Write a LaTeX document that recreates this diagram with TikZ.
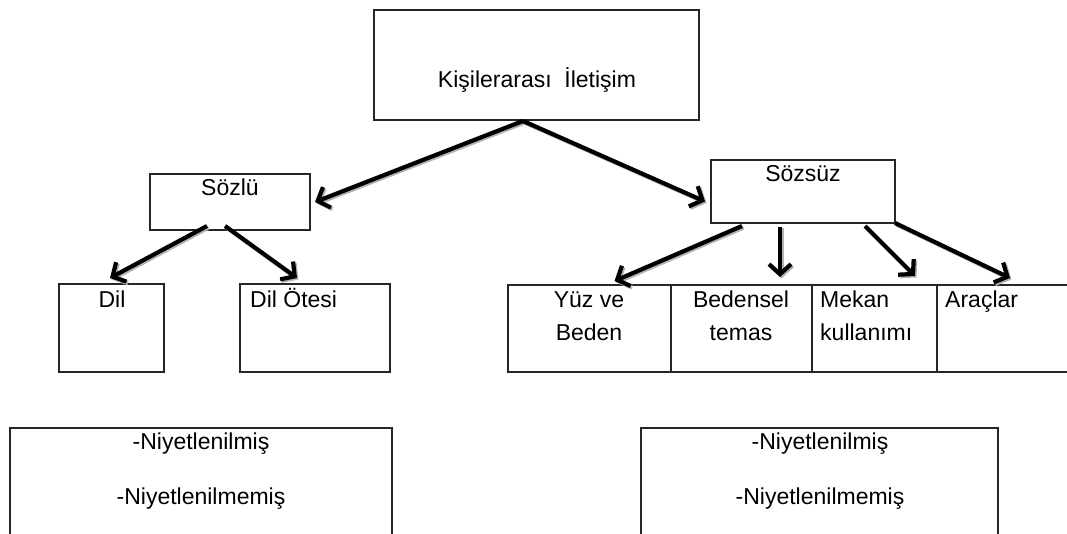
\documentclass[tikz,border=0pt]{standalone}
\usepackage{fontspec}
\setmainfont{Liberation Sans}
\usetikzlibrary{arrows.meta,calc}
\begin{document}
\begin{tikzpicture}[x=1pt,y=-1pt,
  box/.style={draw=black!85, line width=1.2pt, inner sep=0pt, outer sep=0pt, anchor=north west},
  lbl/.style={font=\fontsize{23}{33}\selectfont, inner sep=0pt, anchor=base},
  arr/.style={line width=4.2pt, -{Straight Barb[length=10pt,width=22pt]},
    preaction={draw=black!30, line width=4.2pt, transform canvas={shift={(1.5pt,-1.5pt)}}}},
]
\useasboundingbox (0,0) rectangle (1067,534);
\begin{scope}
\clip (0,0) rectangle (1067,534);
% boxes
\node[box, minimum width=325pt, minimum height=110pt] (top) at (374,10) {};
\node[box, minimum width=160pt, minimum height=56pt] (sozlu) at (150,174) {};
\node[box, minimum width=105pt, minimum height=88pt] (dil) at (59,284) {};
\node[box, minimum width=150pt, minimum height=88pt] (dilotesi) at (240,284) {};
\node[box, minimum width=184pt, minimum height=63pt] (sozsuz) at (711,160) {};
\node[box, minimum width=163pt, minimum height=87pt] (yuz) at (508,285) {};
\node[box, minimum width=141pt, minimum height=87pt] (beden) at (671,285) {};
\node[box, minimum width=125pt, minimum height=87pt] (mekan) at (812,285) {};
\node[box, minimum width=140pt, minimum height=87pt] (arac) at (937,285) {};
\node[box, minimum width=382pt, minimum height=130pt] (niyL) at (10,428) {};
\node[box, minimum width=357pt, minimum height=130pt] (niyR) at (641,428) {};
% labels
\node[lbl] (ltop) at (537,88) {Kişilerarası\ \ İletişim};
\node[lbl] (lsozlu) at (230,196) {Sözlü};
\node[lbl] (ldil) at (112,308) {Dil};
\node[lbl, anchor=base west] (ldilotesi) at (250,308) {Dil Ötesi};
\node[lbl] (lsozsuz) at (803,182) {Sözsüz};
\node[lbl, align=center] (lyuz) at (589,340) {Yüz ve\\Beden};
\node[lbl, align=center] (lbeden) at (741,340) {Bedensel\\temas};
\node[lbl, align=left, anchor=base west] (lmekan) at (820,340) {Mekan\\kullanımı};
\node[lbl, anchor=base west] (larac) at (945,307) {Araçlar};
\node[lbl, align=center, font=\fontsize{23}{55}\selectfont] (lniyL) at (201,504) {-Niyetlenilmiş\\-Niyetlenilmemiş};
\node[lbl, align=center, font=\fontsize{23}{55}\selectfont] (lniyR) at (820,504) {-Niyetlenilmiş\\-Niyetlenilmemiş};
% connectors
\coordinate (topfoot) at ($(top.south west)+(149,1)$);
\draw[arr] (topfoot) -- ($(sozlu.east)+(5,0)$);
\draw[arr] (topfoot) -- ($(sozsuz.west)+(-6,10)$);
\draw[arr] ($(sozlu.south)+(-23,-4)$) -- ($(dil.north)+(-1.5,-6)$);
\draw[arr] ($(sozlu.south)+(-5,-4)$) -- ($(dilotesi.north)+(-18,-6)$);
\draw[arr] ($(sozsuz.south)+(-61,3)$) -- ($(yuz.north)+(25,-4)$);
\draw[arr] ($(sozsuz.south)+(-23,4)$) -- ($(beden.north)+(38.5,-8)$);
\draw[arr] ($(sozsuz.south)+(62,3)$) -- ($(mekan.north)+(40.5,-9)$);
\draw[arr] (sozsuz.south east) -- ($(arac.north west)+(73,-7)$);
\end{scope}
\end{tikzpicture}
\end{document}
